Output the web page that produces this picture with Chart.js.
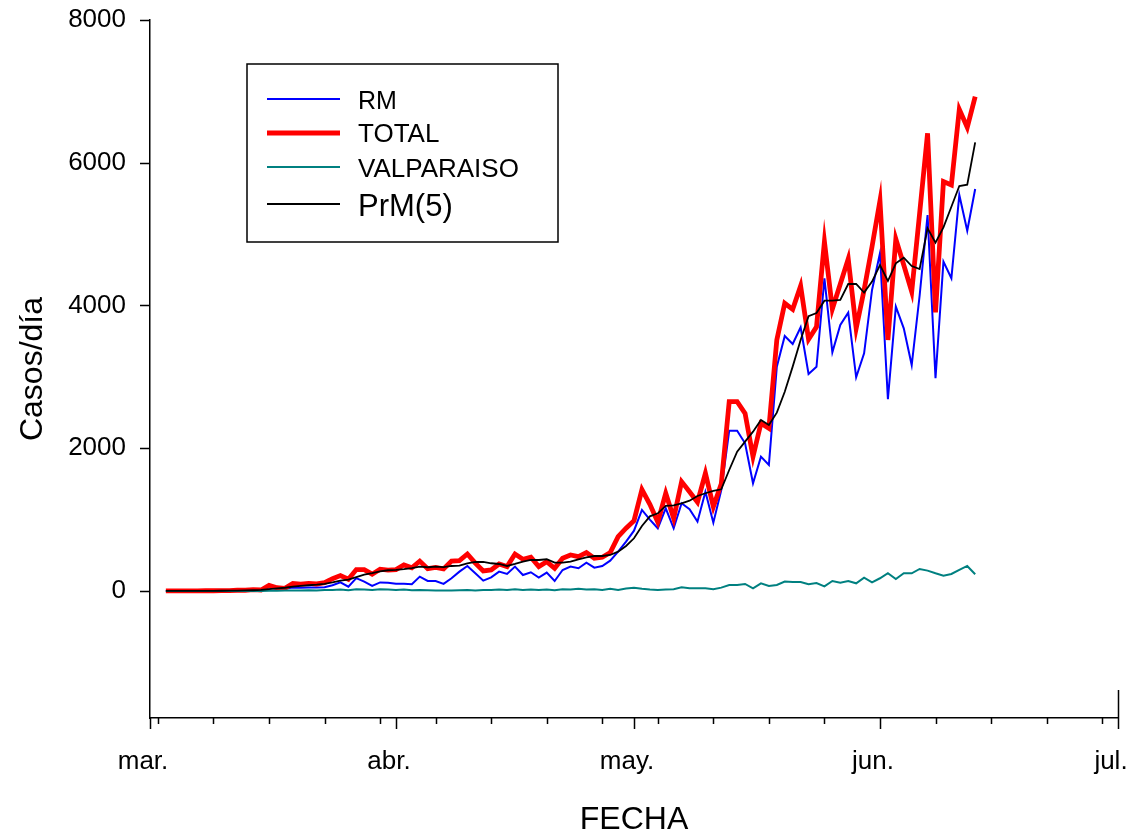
<!DOCTYPE html>
<html>
<head>
<meta charset="utf-8">
<title>Casos por día</title>
<script src="https://cdn.jsdelivr.net/npm/chart.js@4.4.1/dist/chart.umd.min.js"></script>
<style>
  html, body { margin: 0; padding: 0; background: #ffffff; }
  #marco { width: 1129px; height: 833px; }
</style>
</head>
<body>
<div id="marco"><canvas id="grafico" width="1129" height="833"></canvas></div>
<script>
// Fechas de reporte (2020)
const fechas = [
  '2020-03-03','2020-03-04','2020-03-05','2020-03-06','2020-03-07','2020-03-08','2020-03-09','2020-03-10',
  '2020-03-11','2020-03-12','2020-03-13','2020-03-14','2020-03-15','2020-03-16','2020-03-17','2020-03-18',
  '2020-03-19','2020-03-20','2020-03-21','2020-03-22','2020-03-23','2020-03-24','2020-03-25','2020-03-26',
  '2020-03-27','2020-03-28','2020-03-29','2020-03-30','2020-03-31',
  '2020-04-01','2020-04-02','2020-04-03','2020-04-04','2020-04-05','2020-04-06','2020-04-07','2020-04-08',
  '2020-04-09','2020-04-10','2020-04-11','2020-04-12','2020-04-13','2020-04-14','2020-04-15','2020-04-16',
  '2020-04-17','2020-04-18','2020-04-19','2020-04-20','2020-04-21','2020-04-22','2020-04-23','2020-04-24',
  '2020-04-25','2020-04-26','2020-04-27','2020-04-28','2020-04-29','2020-04-30',
  '2020-05-01','2020-05-02','2020-05-03','2020-05-04','2020-05-05','2020-05-06','2020-05-07','2020-05-08',
  '2020-05-09','2020-05-10','2020-05-11','2020-05-12','2020-05-13','2020-05-14','2020-05-15','2020-05-16',
  '2020-05-17','2020-05-18','2020-05-19','2020-05-20','2020-05-21','2020-05-22','2020-05-23','2020-05-24',
  '2020-05-25','2020-05-26','2020-05-27','2020-05-28','2020-05-29','2020-05-30','2020-05-31',
  '2020-06-01','2020-06-02','2020-06-03','2020-06-04','2020-06-05','2020-06-06','2020-06-07','2020-06-08',
  '2020-06-09','2020-06-10','2020-06-11','2020-06-12','2020-06-13'
];

// Casos nuevos por día
const rm = [
  1, 2, 1, 1, 2, 2, 3, 3, 4, 7, 8,
  12, 12, 50, 30, 30, 50, 45, 50, 48, 52,
  80, 120, 60, 180, 130, 70, 120, 115, 100, 100,
  95, 201, 140, 140, 100, 178, 271, 350, 248, 145,
  191, 271, 238, 341, 224, 262, 187, 257, 140, 294,
  341, 318, 397, 327, 350, 425, 551, 691, 845, 1135,
  1000, 878, 1158, 878, 1228, 1144, 971, 1391, 957, 1415,
  2246, 2246, 2069, 1509, 1882, 1765, 3143, 3573, 3461, 3694,
  3040, 3140, 4381, 3344, 3727, 3899, 2994, 3330, 4217, 4731,
  2686, 3983, 3680, 3166, 4140, 5268, 2980, 4614, 4381, 5548, 5048, 5632
];
const total = [
  1, 2, 1, 1, 2, 3, 3, 4, 6, 10, 10,
  18, 14, 80, 45, 37, 104, 95, 105, 98, 116,
  172, 215, 165, 300, 299, 235, 305, 292, 300, 364,
  325, 418, 313, 330, 308, 420, 425, 518, 390, 280,
  294, 378, 341, 518, 444, 472, 341, 411, 318, 458,
  504, 481, 537, 458, 472, 537, 761, 880, 985, 1420,
  1215, 965, 1369, 1018, 1532, 1391, 1245, 1649, 1181, 1500,
  2652, 2652, 2489, 1882, 2349, 2279, 3517, 4031, 3946, 4273,
  3526, 3700, 4894, 3951, 4301, 4651, 3680, 4217, 4824, 5468,
  3517, 4932, 4567, 4193, 5291, 6412, 3904, 5735, 5688, 6748, 6496, 6925
];
const valparaiso = [
  0, 0, 0, 0, 0, 0, 0, 0, 0, 0, 0,
  0, 0, 2, 3, 5, 8, 5, 10, 8, 12,
  15, 20, 10, 25, 20, 12, 25, 20, 15, 20,
  10, 15, 10, 5, 8, 5, 10, 12, 8, 12,
  15, 20, 15, 25, 15, 20, 12, 20, 10, 25,
  20, 30, 20, 25, 15, 30, 15, 35, 45, 30,
  19, 12, 19, 23, 51, 37, 37, 37, 23, 47,
  84, 84, 98, 37, 107, 70, 84, 131, 124, 126,
  95, 110, 65, 140, 117, 140, 107, 187, 121, 178,
  248, 168, 248, 248, 308, 285, 248, 215, 238, 294, 350, 234
];
// Promedio móvil de 5 días
const prm5 = [
  1, 1, 1, 1, 1, 2, 2, 3, 4, 5, 7,
  10, 14, 25, 35, 45, 60, 70, 80, 88, 100,
  120, 145, 160, 195, 230, 250, 275, 290, 295, 305,
  320, 341, 332, 341, 335, 350, 355, 388, 406, 406,
  388, 378, 350, 378, 411, 434, 434, 444, 397, 397,
  411, 444, 472, 490, 490, 504, 551, 630, 738, 911,
  1045, 1088, 1191, 1200, 1228, 1265, 1331, 1369, 1401, 1424,
  1695, 1952, 2092, 2232, 2396, 2326, 2498, 2792, 3143, 3517,
  3850, 3895, 4067, 4067, 4077, 4301, 4301, 4180, 4334, 4567,
  4343, 4591, 4670, 4553, 4511, 5081, 4880, 5095, 5384, 5674, 5692, 6286
];

// Eje X: inicio de cada mes y sus rótulos
const iniciosMes = ['2020-03-01', '2020-04-01', '2020-05-01', '2020-06-01', '2020-07-01'];
const rotulosMes = ['mar.', 'abr.', 'may.', 'jun.', 'jul.'];
// Eje Y
const marcasY = [0, 2000, 4000, 6000, 8000];
const yMin = -1780, yMax = 8000;

const DIA = 86400000;
const origen = Date.parse(iniciosMes[0]);
const aDia = s => (Date.parse(s) - origen) / DIA;
const xMes = iniciosMes.map(aDia);
const xFin = xMes[xMes.length - 1];
// marcas menores: cada lunes
const lunes = [];
for (let d = aDia('2020-03-02'); d < xFin; d += 7) lunes.push(d);

const serie = vals => fechas.map((f, i) => ({ x: aDia(f), y: vals[i] }));

const FUENTE = '"Liberation Sans", Arial, Helvetica, sans-serif';

// Marcas de los ejes (mayores y menores)
const marcasEjes = {
  id: 'marcasEjes',
  afterDraw(chart) {
    const { ctx, chartArea: a, scales: { x, y } } = chart;
    ctx.save();
    ctx.strokeStyle = '#000';
    ctx.lineWidth = 1.5;
    ctx.beginPath();
    xMes.forEach(v => {
      const px = Math.round(x.getPixelForValue(v)) + 0.5;
      ctx.moveTo(px, a.bottom); ctx.lineTo(px, a.bottom + 11);
    });
    lunes.forEach(v => {
      const px = Math.round(x.getPixelForValue(v)) + 0.5;
      ctx.moveTo(px, a.bottom); ctx.lineTo(px, a.bottom + 6);
    });
    marcasY.forEach(v => {
      const py = Math.round(y.getPixelForValue(v)) + 0.5;
      ctx.moveTo(a.left, py); ctx.lineTo(a.left - 10, py);
    });
    // tramo vertical en el extremo derecho del eje X
    const pxFin = Math.round(x.getPixelForValue(xFin)) + 0.5;
    ctx.moveTo(pxFin, a.bottom - 28); ctx.lineTo(pxFin, a.bottom);
    ctx.stroke();
    ctx.restore();
  }
};

// Leyenda enmarcada dentro del área de trazado
const cajaLeyenda = { x: 247, y: 64, w: 311, h: 178, lx0: 267, lx1: 340, tx: 358 };
const filasLeyenda = [
  { ly: 99, by: 109, size: 25 },
  { ly: 133, by: 142, size: 26 },
  { ly: 167, by: 177, size: 26 },
  { ly: 204, by: 216, size: 31 }
];
const leyenda = {
  id: 'leyendaEnmarcada',
  afterDraw(chart) {
    const ctx = chart.ctx;
    const c = cajaLeyenda;
    ctx.save();
    ctx.fillStyle = '#fff';
    ctx.fillRect(c.x, c.y, c.w, c.h);
    ctx.strokeStyle = '#000';
    ctx.lineWidth = 1.5;
    ctx.strokeRect(c.x, c.y, c.w, c.h);
    chart.data.datasets.forEach((ds, i) => {
      const f = filasLeyenda[i];
      ctx.strokeStyle = ds.borderColor;
      ctx.lineWidth = ds.borderWidth;
      ctx.beginPath();
      ctx.moveTo(c.lx0, f.ly); ctx.lineTo(c.lx1, f.ly);
      ctx.stroke();
      ctx.fillStyle = '#000';
      ctx.font = f.size + 'px ' + FUENTE;
      ctx.textBaseline = 'alphabetic';
      ctx.textAlign = 'left';
      ctx.fillText(ds.label, c.tx, f.by);
    });
    ctx.restore();
  }
};

const linea = (label, vals, color, width, order) => ({
  label, data: serie(vals), borderColor: color, backgroundColor: color,
  borderWidth: width, pointRadius: 0, tension: 0, fill: false, order,
  borderJoinStyle: 'miter'
});

new Chart(document.getElementById('grafico'), {
  type: 'line',
  data: {
    datasets: [
      linea('RM', rm, '#0000ff', 2, 4),
      linea('TOTAL', total, '#ff0000', 4.8, 3),
      linea('VALPARAISO', valparaiso, '#008080', 2, 2),
      linea('PrM(5)', prm5, '#000000', 1.8, 1)
    ]
  },
  options: {
    responsive: false,
    animation: false,
    devicePixelRatio: 1,
    layout: { padding: { left: 0, right: 11, top: 20, bottom: 0 } },
    plugins: { legend: { display: false }, tooltip: { enabled: false } },
    scales: {
      x: {
        type: 'linear',
        position: 'bottom',
        min: xMes[0],
        max: xFin,
        afterBuildTicks: s => { s.ticks = xMes.map(v => ({ value: v })); },
        afterFit: s => { s.height = 115; s.paddingLeft = 0; s.paddingRight = 0; },
        grid: { display: false },
        border: { display: true, color: '#000', width: 1.5 },
        ticks: {
          autoSkip: false, maxRotation: 0, minRotation: 0, padding: 20, labelOffset: -7,
          color: '#000', font: { family: FUENTE, size: 26 },
          callback: (v, i) => rotulosMes[i]
        },
        title: {
          display: true, text: 'FECHA', color: '#000',
          font: { family: FUENTE, size: 32, lineHeight: 1 },
          padding: { top: 0, bottom: -3 }
        }
      },
      y: {
        type: 'linear',
        min: yMin,
        max: yMax,
        afterBuildTicks: s => { s.ticks = marcasY.map(v => ({ value: v })); },
        afterFit: s => { s.width = 150; s.paddingTop = 0; s.paddingBottom = 0; },
        grid: { display: false },
        border: { display: true, color: '#000', width: 1.5 },
        ticks: {
          padding: 16, color: '#000', font: { family: FUENTE, size: 26 },
          callback: v => String(v)
        },
        title: {
          display: true, text: 'Casos/día', color: '#000',
          font: { family: FUENTE, size: 32, lineHeight: 1.2 },
          padding: { top: 14, bottom: 0 }
        }
      }
    }
  },
  plugins: [marcasEjes, leyenda]
});
</script>
</body>
</html>
